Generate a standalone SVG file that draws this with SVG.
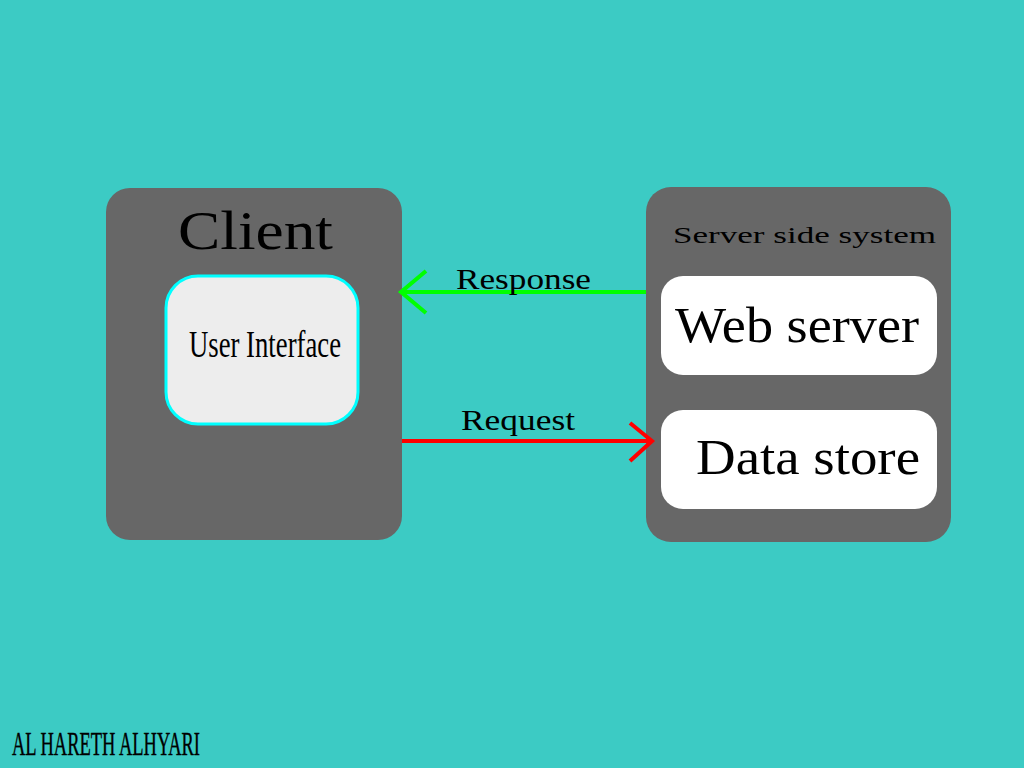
<svg xmlns="http://www.w3.org/2000/svg" width="1024" height="768" viewBox="0 0 1024 768">
<defs>
<style>
.panel{fill:#676767}
.card{fill:#ffffff}
.lbl{font-family:"Liberation Serif","DejaVu Serif",serif;fill:#000}
</style>
<marker id="hg" markerUnits="userSpaceOnUse" markerWidth="40" markerHeight="50" viewBox="-30 -25 40 50" refX="0" refY="0" orient="auto">
<path d="M-25,-21 L0,0 L-25,21" fill="none" stroke="#00ff00" stroke-width="4"/>
</marker>
<marker id="hr" markerUnits="userSpaceOnUse" markerWidth="40" markerHeight="50" viewBox="-30 -25 40 50" refX="0" refY="0" orient="auto">
<path d="M-22,-18 L0,0 L-22,20" fill="none" stroke="#ff0000" stroke-width="4"/>
</marker>
</defs>
<rect x="0" y="0" width="1024" height="768" fill="#3ccbc4"/>
<g id="client">
<rect class="panel" x="106" y="188" width="296" height="352" rx="24"/>
<text class="lbl" x="178" y="249" font-size="55" textLength="155" lengthAdjust="spacingAndGlyphs">Client</text>
</g>
<g id="user-interface">
<rect x="166" y="276" width="192" height="148" rx="32" fill="#ededed" stroke="#00ffff" stroke-width="3"/>
<text class="lbl" x="189" y="357" font-size="37" textLength="152" lengthAdjust="spacingAndGlyphs">User Interface</text>
</g>
<g id="server-side-system">
<rect class="panel" x="646" y="187" width="305" height="355" rx="25"/>
<text class="lbl" x="673" y="243" font-size="23" textLength="263" lengthAdjust="spacingAndGlyphs">Server side system</text>
</g>
<g id="web-server">
<rect class="card" x="661" y="276" width="276" height="99" rx="22"/>
<text class="lbl" x="675" y="342" font-size="50" textLength="244" lengthAdjust="spacingAndGlyphs">Web server</text>
</g>
<g id="data-store">
<rect class="card" x="661" y="410" width="276" height="99" rx="22"/>
<text class="lbl" x="696" y="474" font-size="50" textLength="224" lengthAdjust="spacingAndGlyphs">Data store</text>
</g>
<g id="connectors">
<line x1="646" y1="292" x2="401" y2="292" stroke="#00ff00" stroke-width="4" marker-end="url(#hg)"/>
<line x1="402" y1="441" x2="652" y2="441" stroke="#ff0000" stroke-width="4" marker-end="url(#hr)"/>
<text class="lbl" x="456" y="289" font-size="30" textLength="135" lengthAdjust="spacingAndGlyphs">Response</text>
<text class="lbl" x="461" y="430" font-size="30" textLength="114" lengthAdjust="spacingAndGlyphs">Request</text>
</g>
<text class="lbl" x="12" y="755" font-size="33" textLength="188" lengthAdjust="spacingAndGlyphs" stroke="#000" stroke-width="0.4">AL HARETH ALHYARI</text>
</svg>
